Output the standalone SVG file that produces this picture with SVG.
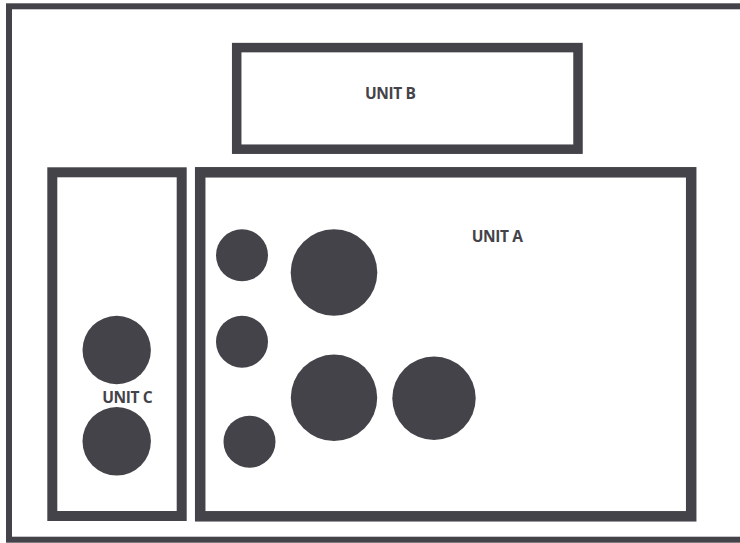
<svg xmlns="http://www.w3.org/2000/svg" width="740" height="543" viewBox="0 0 740 543">
<style>
.wall{fill:none;stroke:#444349}
.dot{fill:#444349}
.lbl{font-family:"Open Sans","Liberation Sans",sans-serif;font-weight:700;font-size:15.5px;fill:#444349;letter-spacing:-0.4px}
</style>
<rect width="740" height="543" fill="#ffffff"/>
<g id="outline">
<rect class="wall" x="9" y="6.3" width="740" height="533.4" stroke-width="6"/>
</g>
<g id="unit-b">
<rect class="wall" x="236.7" y="47.6" width="341.3" height="101.6" stroke-width="9.5"/>
<text class="lbl" x="365" y="98.5">UNIT B</text>
</g>
<g id="unit-c">
<rect class="wall" x="52.3" y="172.3" width="129.4" height="343.7" stroke-width="10"/>
<circle class="dot" cx="116.7" cy="350" r="34.2"/>
<circle class="dot" cx="116.7" cy="441.3" r="34.2"/>
<text class="lbl" x="102.3" y="402.8">UNIT C</text>
</g>
<g id="unit-a">
<rect class="wall" x="200.2" y="172.3" width="491" height="344" stroke-width="10.5"/>
<circle class="dot" cx="242" cy="255.3" r="26"/>
<circle class="dot" cx="334" cy="272.5" r="43.3"/>
<circle class="dot" cx="242" cy="341.7" r="26"/>
<circle class="dot" cx="334" cy="397.8" r="43.2"/>
<circle class="dot" cx="249.5" cy="441.7" r="26"/>
<circle class="dot" cx="434" cy="398.3" r="41.7"/>
<text class="lbl" x="471.7" y="241.7">UNIT A</text>
</g>
<g id="connectors"></g>
</svg>
